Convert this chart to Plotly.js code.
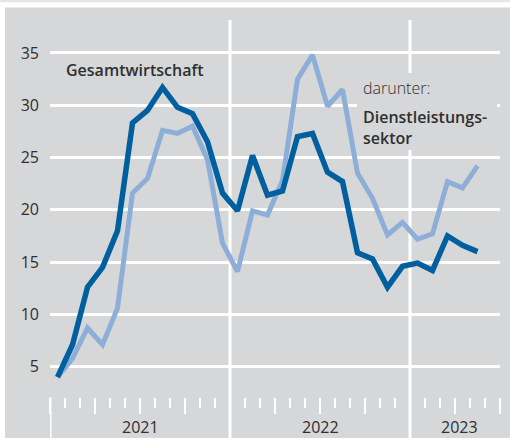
<!DOCTYPE html>
<html>
<head>
<meta charset="utf-8">
<script src="https://cdn.plot.ly/plotly-3.0.1.min.js"></script>
<style>
  html, body { margin: 0; padding: 0; background: #ffffff; }
  #chart { width: 510px; height: 438px; }
</style>
</head>
<body>
<div id="chart"></div>
<script>
// Monthly values, Jan 2021 .. May 2023
const gesamtwirtschaft = [4.0, 7.1, 12.6, 14.5, 18.0, 28.3, 29.5, 31.7, 29.8, 29.2, 26.5, 21.6,
                          19.9, 25.2, 21.4, 21.8, 27.0, 27.3, 23.6, 22.7, 15.9, 15.3, 12.6, 14.6,
                          14.9, 14.2, 17.5, 16.6, 16.0];
const dienstleistung = [4.0, 5.8, 8.7, 7.1, 10.6, 21.6, 23.0, 27.6, 27.3, 28.0, 24.8, 16.8,
                        14.1, 19.9, 19.5, 22.8, 32.5, 34.8, 29.9, 31.5, 23.5, 21.1, 17.6, 18.8,
                        17.2, 17.7, 22.7, 22.1, 24.2];
const years = ['2021', '2022', '2023'];
const yearStartMonth = [0, 12, 24];
const monthsShown = 30;       // Jan 2021 .. Jun 2023
const yTicks = [5, 10, 15, 20, 25, 30, 35];

const xs = gesamtwirtschaft.map((_, i) => i + 0.5);

const DARK = '#00609f';
const LIGHT = '#8dafd7';
const BG = '#d6d7d9';
const TXT = '#2f2f2f';

const traces = [
  { x: xs, y: dienstleistung, type: 'scatter', mode: 'lines',
    line: { color: LIGHT, width: 5 }, hoverinfo: 'skip' },
  { x: xs, y: gesamtwirtschaft, type: 'scatter', mode: 'lines',
    line: { color: DARK, width: 5.5 }, hoverinfo: 'skip' }
];

// plot area: x 50..500 px, y 20..397 px
const PH = 377;
const bottomPaper = -41 / PH;

const shapes = [
  // gray panel
  { type: 'rect', xref: 'paper', yref: 'paper', x0: -45/450, x1: 460/450, y0: bottomPaper - 0.01, y1: (397-7.5)/PH,
    fillcolor: BG, line: { width: 0 }, layer: 'below' },
  // top thin strip
  { type: 'rect', xref: 'paper', yref: 'paper', x0: -50/450, x1: 460/450, y0: (397-2.3)/PH, y1: 397/PH + 0.01,
    fillcolor: '#e6e6e6', line: { width: 0 }, layer: 'below' }
];
yearStartMonth.forEach((m, k) => {
  shapes.push({ type: 'line', xref: 'x', yref: 'paper', x0: m, x1: m,
    y0: bottomPaper - 0.01, y1: k === 0 ? 0 : 1, line: { color: '#ffffff', width: 3 }, layer: 'below' });
});
// box behind the label text
shapes.push({ type: 'rect', xref: 'paper', yref: 'paper', x0: (357-50)/450, x1: (497-50)/450,
  y0: (397-150)/PH, y1: (397-73)/PH, fillcolor: BG, line: { width: 0 }, layer: 'above' });

const yearCenters = [6, 18, 27.3];
const annotations = years.map((y, k) => ({
  x: yearCenters[k], y: bottomPaper, xref: 'x', yref: 'paper', text: y, showarrow: false,
  xanchor: 'center', yanchor: 'bottom', yshift: -2,
  font: { family: 'Open Sans', size: 16, color: TXT }
}));
annotations.push(
  { x: 0.95, y: 33.4, xref: 'x', yref: 'y', text: 'Gesamtwirtschaft', showarrow: false,
    xanchor: 'left', yanchor: 'middle',
    font: { family: 'Open Sans', size: 16, color: TXT, weight: 600 } },
  { x: 20.7, y: 31.65, xref: 'x', yref: 'y', text: 'darunter:', showarrow: false,
    xanchor: 'left', yanchor: 'middle',
    font: { family: 'Open Sans', size: 16, color: TXT, weight: 300 } },
  { x: 20.7, y: 27.9, xref: 'x', yref: 'y', text: 'Dienstleistungs-<br>sektor', showarrow: false,
    xanchor: 'left', yanchor: 'middle', align: 'left',
    font: { family: 'Open Sans', size: 16, color: TXT, weight: 600 } }
);

const layout = {
  width: 510, height: 438,
  margin: { l: 50, r: 10, t: 20, b: 41, pad: 0 },
  paper_bgcolor: '#ffffff',
  plot_bgcolor: 'rgba(0,0,0,0)',
  showlegend: false,
  xaxis: {
    range: [0, monthsShown], showgrid: false, zeroline: false, showline: false,
    showticklabels: false, tickmode: 'linear', tick0: 0, dtick: 3,
    ticks: 'outside', ticklen: 16, tickwidth: 2.5, tickcolor: '#ffffff',
    minor: { tickmode: 'linear', tick0: 0, dtick: 1, ticks: 'outside', ticklen: 10,
             tickwidth: 2.5, tickcolor: '#ffffff', showgrid: false },
    fixedrange: true
  },
  yaxis: {
    range: [2.1, 38.15], tickmode: 'array', tickvals: yTicks, ticktext: yTicks.map(String),
    showgrid: true, gridcolor: '#ffffff', gridwidth: 3, zeroline: false, showline: false,
    ticks: '', ticklabelstandoff: 10,
    tickfont: { family: 'Open Sans', size: 16, color: TXT }, fixedrange: true
  },
  shapes: shapes,
  annotations: annotations
};

Plotly.newPlot('chart', traces, layout, { displayModeBar: false, staticPlot: true });
</script>
</body>
</html>
